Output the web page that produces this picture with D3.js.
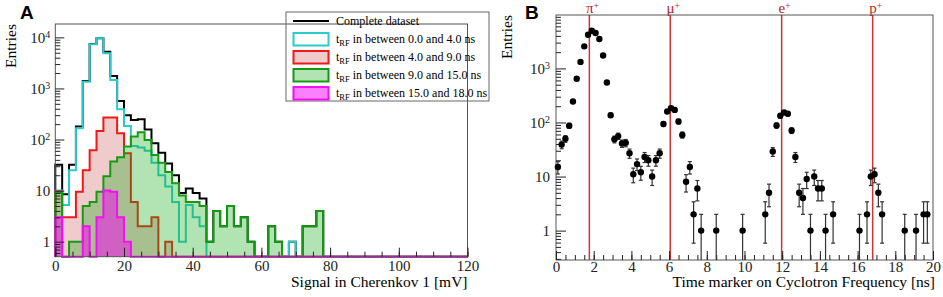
<!DOCTYPE html>
<html>
<head>
<meta charset="utf-8">
<script src="https://cdn.jsdelivr.net/npm/d3@7"></script>
<style>
  body { margin: 0; background: #fff; }
  svg { display: block; }
</style>
</head>
<body>
<svg width="943" height="297"></svg>
<script>
var serif = "'Liberation Serif', 'Times New Roman', serif"
var sans = "'Liberation Sans', Arial, sans-serif"

// ---- panel A data: entries per 2 mV bin, starting at 0 mV
var binWidth = 2
var complete = [32, 8.5, 32, 180, 1400, 7400, 9600, 5200, 1760, 570, 300, 240, 250, 158, 85, 55, 34, 20, 9, 11, 9, 7, 1, 4, 2, 5, 2, 3, 1, 0, 0, 2, 1, 0, 1, 0, 2, 2, 4, 0]
var rf0to4 = [10, 5.2, 25, 166, 1360, 7330, 9560, 4900, 1470, 390, 184, 75, 70, 60, 35, 20, 12, 6, 1, 5.2, 3, 2, 0, 0, 0, 0, 0, 0, 0, 0, 0, 0, 0, 0, 1, 0, 0, 0, 0, 0]
var rf4to9 = [9.5, 3, 3, 9.5, 25, 62, 147, 270, 270, 133, 54, 6, 2, 2, 3, 0, 1]
var rf9to15 = [9, 0, 1, 1, 5, 6, 9.5, 19, 37, 45, 73, 114, 139, 98, 50, 35, 23, 14, 8, 6, 6, 5, 1, 4, 2, 5, 2, 3, 1, 0, 0, 2, 1, 0, 0, 0, 2, 2, 4, 0]
var rf15to18 = [3, 0, 0, 0, 2, 0, 3, 10, 9.5, 3, 1]

var legendLabels = ['Complete dataset', 'in between 0.0 and 4.0 ns', 'in between 4.0 and 9.0 ns',
  'in between 9.0 and 15.0 ns', 'in between 15.0 and 18.0 ns']

// ---- panel B data: time marker bin centres [ns] and entries
var tMarker = [0.1, 0.3, 0.5, 0.7, 0.9, 1.1, 1.3, 1.5, 1.7, 1.9, 2.1, 2.3, 2.5, 2.7, 2.9, 3.1, 3.3, 3.5, 3.7, 3.9,
  4.1, 4.3, 4.5, 4.7, 4.9, 5.1, 5.3, 5.5, 5.7, 5.9, 6.1, 6.3, 6.5, 6.7, 6.9, 7.1, 7.3, 7.5, 7.7, 8.5, 9.9,
  11.1, 11.3, 11.5, 11.7, 11.9, 12.1, 12.3, 12.5, 12.7, 12.9, 13.1, 13.3, 13.5, 13.7, 13.9, 14.1, 14.3, 14.7,
  16.1, 16.5, 16.7, 16.9, 17.1, 17.3, 18.5, 19.1, 19.5, 19.7]
var entries = [15, 39, 50, 87, 245, 645, 1320, 2560, 4200, 4990, 4520, 3500, 1740, 550, 136, 49, 56, 41, 42, 27,
  11, 17, 12, 23, 20, 10, 20, 27, 94, 160, 184, 171, 104, 59, 8, 15, 2, 6, 1, 1, 1,
  2, 5, 29, 88, 133, 153, 145, 71, 23, 5, 4, 9, 1, 10, 6, 6, 1, 2,
  1, 2, 10, 11, 5, 2, 1, 1, 2, 2]

var particles = ['π', 'μ', 'e', 'p']
var particleTimes = [1.77, 6.06, 11.97, 16.8]

var svg = d3.select('svg')

function histPoints (vals, y) {
  var base = y.domain()[0]
  var pts = [{ x: 0, v: base }]
  vals.forEach((v, i) => pts.push({ x: i * binWidth, v: v > 0 ? v : base }))
  var last = vals[vals.length - 1]
  pts.push({ x: vals.length * binWidth, v: last > 0 ? last : base })
  pts.push({ x: vals.length * binWidth, v: base })
  pts.push({ x: 120, v: base })
  return pts
}

function supLabel (sel) {
  sel.each(function (d) {
    var t = d3.select(this).text('')
    var e = Math.round(Math.log10(d))
    if (e < 2) {
      t.text(String(d))
    } else {
      t.append('tspan').text('10')
      t.append('tspan').attr('dy', '-0.45em').attr('font-size', 10).text(e)
    }
  })
}

function styleAxis (g) {
  g.select('.domain').remove()
  g.attr('font-family', serif).attr('font-size', 15).attr('color', '#222')
  g.selectAll('line').attr('stroke-width', 1)
}

function logMinors (lo, hi) {
  var out = []
  for (var e = -1; e <= 4; e++) {
    for (var m = 2; m <= 9; m++) {
      var v = m * Math.pow(10, e)
      if (v > lo && v < hi) out.push(v)
    }
  }
  return out
}

// ================= panel A
var ax = d3.scaleLinear().domain([0, 120]).range([55.3, 467.5])
var ay = d3.scaleLog().domain([0.508, 18270]).range([256.7, 24])

var aG = svg.append('g')

var line = d3.line()
  .x((d) => ax(d.x))
  .y((d) => ay(d.v))
  .curve(d3.curveStepAfter)

var series = [
  { vals: complete, stroke: '#000', fill: 'none' },
  { vals: rf0to4, stroke: '#2ccaca', fill: 'none' },
  { vals: rf4to9, stroke: '#f01818', fill: 'rgba(200,70,70,0.28)' },
  { vals: rf9to15, stroke: '#169a16', fill: 'rgba(20,170,20,0.33)' },
  { vals: rf15to18, stroke: '#f010f0', fill: 'rgba(250,0,250,0.5)' }
]

aG.selectAll('path.hist')
  .data(series)
  .enter()
  .append('path')
  .attr('class', 'hist')
  .attr('d', (d) => line(histPoints(d.vals, ay)))
  .attr('fill', (d) => d.fill)
  .attr('stroke', (d) => d.stroke)
  .attr('stroke-width', 2)

aG.append('rect')
  .attr('x', ax(0)).attr('y', ay.range()[1])
  .attr('width', ax(120) - ax(0)).attr('height', ay.range()[0] - ay.range()[1])
  .attr('fill', 'none').attr('stroke', '#555').attr('stroke-width', 1)

aG.append('g')
  .attr('transform', 'translate(0,' + ay.range()[0] + ')')
  .call(d3.axisBottom(ax).tickValues(d3.range(0, 121, 20)).tickSize(-9).tickPadding(4))
  .call(styleAxis)
aG.append('g')
  .attr('transform', 'translate(0,' + ay.range()[0] + ')')
  .call(d3.axisBottom(ax).tickValues(d3.range(0, 121, 5)).tickSize(-5).tickFormat(''))
  .call(styleAxis)

aG.append('g')
  .attr('transform', 'translate(' + ax(0) + ',0)')
  .call(d3.axisLeft(ay).tickValues([1, 10, 100, 1000, 10000]).tickSize(-9).tickPadding(5))
  .call(styleAxis)
  .selectAll('text').call(supLabel)
aG.append('g')
  .attr('transform', 'translate(' + ax(0) + ',0)')
  .call(d3.axisLeft(ay).tickValues(logMinors(0.508, 18270)).tickSize(-5).tickFormat(''))
  .call(styleAxis)

aG.append('text')
  .attr('x', ax(120)).attr('y', 287)
  .attr('text-anchor', 'end')
  .attr('font-family', serif).attr('font-size', 15.5)
  .text('Signal in Cherenkov 1 [mV]')

aG.append('text')
  .attr('transform', 'translate(15.5,' + ay.range()[1] + ') rotate(-90)')
  .attr('text-anchor', 'end')
  .attr('font-family', serif).attr('font-size', 15.5)
  .text('Entries')

aG.append('text')
  .attr('x', 20).attr('y', 18.5)
  .attr('font-family', sans).attr('font-weight', 'bold').attr('font-size', 19)
  .text('A')

// legend (transparent, frame line shows through)
var leg = aG.append('g').attr('transform', 'translate(286,12)')
leg.append('rect')
  .attr('width', 203).attr('height', 89)
  .attr('fill', 'none').attr('stroke', '#666').attr('stroke-width', 1)

var rows = leg.selectAll('g.row')
  .data(series)
  .enter()
  .append('g')
  .attr('class', 'row')
  .attr('transform', (d, i) => 'translate(0,' + (9 + i * 18) + ')')

rows.filter((d, i) => i === 0)
  .append('line')
  .attr('x1', 7).attr('x2', 43)
  .attr('stroke', '#000').attr('stroke-width', 2)

rows.filter((d, i) => i > 0)
  .append('rect')
  .attr('x', 7.5).attr('y', -6).attr('width', 35).attr('height', 12.5)
  .attr('fill', (d) => d.fill === 'none' ? '#fff' : d.fill)
  .attr('stroke', (d) => d.stroke).attr('stroke-width', 2)

rows.append('text')
  .attr('x', 50).attr('y', 4)
  .attr('font-family', serif).attr('font-size', 12)
  .each(function (d, i) {
    var t = d3.select(this)
    if (i === 0) {
      t.text(legendLabels[0])
    } else {
      t.append('tspan').text('t')
      t.append('tspan').attr('dy', 3).attr('font-size', 8.5).text('RF')
      t.append('tspan').attr('dy', -3).text(' ' + legendLabels[i])
    }
  })

// ================= panel B
var bx = d3.scaleLinear().domain([0, 20]).range([556, 933])
var by = d3.scaleLog().domain([0.286, 9735]).range([260, 15])

var bG = svg.append('g')

bG.selectAll('line.pid')
  .data(particleTimes)
  .enter()
  .append('line')
  .attr('class', 'pid')
  .attr('x1', (d) => bx(d)).attr('x2', (d) => bx(d))
  .attr('y1', by.range()[1]).attr('y2', by.range()[0])
  .attr('stroke', '#cc3636').attr('stroke-width', 1.5)

bG.selectAll('text.pid')
  .data(particleTimes)
  .enter()
  .append('text')
  .attr('class', 'pid')
  .attr('x', (d) => bx(d) + 3).attr('y', 13)
  .attr('text-anchor', 'middle')
  .attr('font-family', serif).attr('font-size', 15).attr('fill', '#b81c1c')
  .each(function (d, i) {
    var t = d3.select(this)
    t.append('tspan').text(particles[i])
    t.append('tspan').attr('dy', -4.5).attr('font-size', 9.5).text('+')
  })

bG.append('rect')
  .attr('x', bx(0)).attr('y', by.range()[1])
  .attr('width', bx(20) - bx(0)).attr('height', by.range()[0] - by.range()[1])
  .attr('fill', 'none').attr('stroke', '#555').attr('stroke-width', 1)

bG.append('g')
  .attr('transform', 'translate(0,' + by.range()[0] + ')')
  .call(d3.axisBottom(bx).tickValues(d3.range(0, 21, 2)).tickSize(-9).tickPadding(1))
  .call(styleAxis)
bG.append('g')
  .attr('transform', 'translate(0,' + by.range()[0] + ')')
  .call(d3.axisBottom(bx).tickValues(d3.range(0, 20.01, 0.5)).tickSize(-5).tickFormat(''))
  .call(styleAxis)

bG.append('g')
  .attr('transform', 'translate(' + bx(0) + ',0)')
  .call(d3.axisLeft(by).tickValues([1, 10, 100, 1000]).tickSize(-10).tickPadding(6))
  .call(styleAxis)
  .selectAll('text').call(supLabel)
bG.append('g')
  .attr('transform', 'translate(' + bx(0) + ',0)')
  .call(d3.axisLeft(by).tickValues(logMinors(0.286, 9735)).tickSize(-5).tickFormat(''))
  .call(styleAxis)

var pts = tMarker.map((t, i) => ({ t: t, n: entries[i] }))
var errG = bG.append('g').attr('stroke', '#333').attr('stroke-width', 1.2)

function errLo (d) {
  var lo = d.n - Math.sqrt(d.n)
  return lo > by.domain()[0] ? by(lo) : by.range()[0]
}
function errHi (d) {
  return by(Math.min(d.n + Math.sqrt(d.n), by.domain()[1]))
}

errG.selectAll('line.bar')
  .data(pts)
  .enter()
  .append('line')
  .attr('x1', (d) => bx(d.t)).attr('x2', (d) => bx(d.t))
  .attr('y1', errLo).attr('y2', errHi)
errG.selectAll('line.capHi')
  .data(pts)
  .enter()
  .append('line')
  .attr('x1', (d) => bx(d.t) - 2).attr('x2', (d) => bx(d.t) + 2)
  .attr('y1', errHi).attr('y2', errHi)
errG.selectAll('line.capLo')
  .data(pts.filter((d) => d.n - Math.sqrt(d.n) > by.domain()[0]))
  .enter()
  .append('line')
  .attr('x1', (d) => bx(d.t) - 2).attr('x2', (d) => bx(d.t) + 2)
  .attr('y1', errLo).attr('y2', errLo)

bG.selectAll('circle')
  .data(pts)
  .enter()
  .append('circle')
  .attr('cx', (d) => bx(d.t))
  .attr('cy', (d) => by(d.n))
  .attr('r', 3.2)
  .attr('fill', '#000')

bG.append('text')
  .attr('x', 935).attr('y', 287)
  .attr('text-anchor', 'end')
  .attr('font-family', serif).attr('font-size', 15.5)
  .text('Time marker on Cyclotron Frequency [ns]')

bG.append('text')
  .attr('transform', 'translate(512,' + by.range()[1] + ') rotate(-90)')
  .attr('text-anchor', 'end')
  .attr('font-family', serif).attr('font-size', 15.5)
  .text('Entries')

bG.append('text')
  .attr('x', 525).attr('y', 18.5)
  .attr('font-family', sans).attr('font-weight', 'bold').attr('font-size', 19)
  .text('B')
</script>
</body>
</html>
